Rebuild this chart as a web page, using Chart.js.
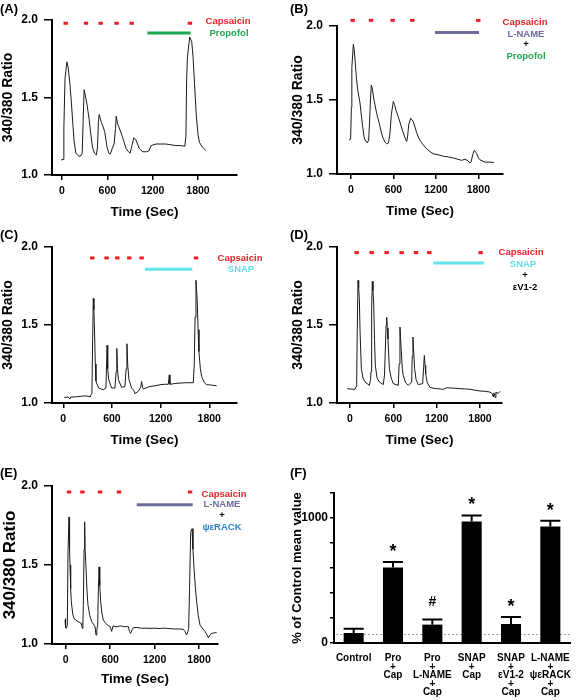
<!DOCTYPE html>
<html>
<head>
<meta charset="utf-8">
<script src="https://cdn.jsdelivr.net/npm/chart.js@4.4.0/dist/chart.umd.min.js"></script>
<style>
  html, body { margin: 0; padding: 0; background: #fff; }
  #fig { position: relative; width: 576px; height: 700px; overflow: hidden;
         font-family: "Liberation Sans", Arial, Helvetica, sans-serif; }
  .box { position: absolute; }
  .tag { position: absolute; font-weight: bold; font-size: 13px; line-height: 1; }
  .lbl { position: absolute; font-weight: bold; font-size: 9.5px; line-height: 1;
         white-space: nowrap; transform: translate(-50%, -50%); }
  .red { color: #ee1d25; }
  .green { color: #1fa84f; }
  .slate { color: #6c6c9c; }
  .cyan { color: #5fdde8; }
  .blue { color: #2d86c5; }
</style>
</head>
<body>
<div id="fig">
  <div class="box" style="left:0;top:0;width:290px;height:225px"><canvas id="chartA"></canvas></div>
  <div class="box" style="left:290px;top:0;width:286px;height:225px"><canvas id="chartB"></canvas></div>
  <div class="box" style="left:0;top:225px;width:290px;height:230px"><canvas id="chartC"></canvas></div>
  <div class="box" style="left:290px;top:225px;width:286px;height:230px"><canvas id="chartD"></canvas></div>
  <div class="box" style="left:0;top:455px;width:290px;height:245px"><canvas id="chartE"></canvas></div>
  <div class="box" style="left:290px;top:455px;width:286px;height:245px"><canvas id="chartF"></canvas></div>

  <!-- panel tags -->
  <div class="tag" style="left:0;top:2px">(A)</div>
  <div class="tag" style="left:290px;top:2px">(B)</div>
  <div class="tag" style="left:0;top:228px">(C)</div>
  <div class="tag" style="left:290px;top:228px">(D)</div>
  <div class="tag" style="left:0;top:466px">(E)</div>
  <div class="tag" style="left:290px;top:466px">(F)</div>

  <!-- treatment keys -->
  <div class="lbl red" style="left:228px;top:21px">Capsaicin</div>
  <div class="lbl green" style="left:229px;top:33px">Propofol</div>

  <div class="lbl red" style="left:525px;top:22px">Capsaicin</div>
  <div class="lbl slate" style="left:526px;top:34px">L-NAME</div>
  <div class="lbl" style="left:526px;top:44px">+</div>
  <div class="lbl green" style="left:526px;top:56px">Propofol</div>

  <div class="lbl red" style="left:240px;top:258px">Capsaicin</div>
  <div class="lbl cyan" style="left:241px;top:269px">SNAP</div>

  <div class="lbl red" style="left:521px;top:252px">Capsaicin</div>
  <div class="lbl cyan" style="left:523px;top:264px">SNAP</div>
  <div class="lbl" style="left:525px;top:275px">+</div>
  <div class="lbl" style="left:525px;top:287px">εV1-2</div>

  <div class="lbl red" style="left:224px;top:494px">Capsaicin</div>
  <div class="lbl slate" style="left:222px;top:504px">L-NAME</div>
  <div class="lbl" style="left:222px;top:515px">+</div>
  <div class="lbl blue" style="left:222px;top:527px">ψεRACK</div>
</div>

<script>
// ---- Datos ----
// ejes comunes de las trazas
const timeTicks = [0, 600, 1200, 1800];
const ratioTicks = [1.0, 1.5, 2.0];

// trazas [tiempo (s), ratio 340/380]
const traceA = [[-13,1.097],[15,1.10],[25,1.30],[40,1.62],[65,1.73],[80,1.70],[105,1.59],[127,1.45],[145,1.32],[160,1.22],
  [184,1.14],[215,1.125],[240,1.12],[268,1.14],[280,1.35],[293,1.55],[310,1.51],[333,1.45],[359,1.36],[380,1.27],
  [403,1.18],[430,1.14],[455,1.13],[470,1.18],[482,1.34],[492,1.39],[521,1.34],[545,1.31],[565,1.28],[596,1.18],
  [620,1.14],[640,1.135],[665,1.17],[690,1.20],[708,1.30],[718,1.38],[735,1.33],[753,1.31],[797,1.25],[830,1.20],
  [850,1.17],[880,1.15],[902,1.14],[925,1.19],[950,1.24],[975,1.23],[1000,1.20],[1025,1.17],[1069,1.15],[1120,1.15],
  [1150,1.155],[1180,1.19],[1244,1.20],[1310,1.20],[1375,1.20],[1440,1.195],[1507,1.19],[1570,1.19],[1625,1.185],[1640,1.25],
  [1650,1.62],[1660,1.76],[1690,1.89],[1717,1.86],[1735,1.76],[1755,1.58],[1778,1.38],[1800,1.26],[1820,1.21],[1857,1.18],[1901,1.16]];

const traceB = [[-28,1.23],[-5,1.235],[5,1.45],[12,1.72],[33,1.877],[45,1.84],[57,1.77],[75,1.66],[94,1.57],[127,1.48],
  [150,1.38],[165,1.32],[185,1.25],[198,1.23],[230,1.21],[250,1.23],[262,1.35],[275,1.50],[287,1.60],[300,1.58],
  [325,1.50],[363,1.41],[400,1.34],[425,1.29],[447,1.25],[480,1.215],[504,1.204],[530,1.21],[550,1.27],[570,1.40],
  [598,1.49],[615,1.47],[636,1.43],[683,1.365],[730,1.29],[760,1.25],[787,1.22],[800,1.25],[815,1.33],[843,1.377],
  [881,1.354],[928,1.28],[960,1.24],[999,1.21],[1069,1.17],[1120,1.15],[1163,1.137],[1230,1.13],[1305,1.12],[1380,1.115],
  [1446,1.108],[1510,1.10],[1564,1.092],[1611,1.10],[1650,1.09],[1681,1.074],[1700,1.085],[1720,1.13],[1743,1.16],[1760,1.15],
  [1776,1.14],[1800,1.11],[1823,1.096],[1893,1.08],[1960,1.08],[2021,1.078]];

const traceC = [[12,1.036],[60,1.038],[82,1.025],[90,1.038],[164,1.04],[250,1.045],[288,1.045],[330,1.04],[337,1.05],[353,1.06],
  [362,1.40],[370,1.67],[378,1.60],[386,1.45],[395,1.25],[403,1.14],[436,1.096],[493,1.085],[526,1.096],[534,1.25],
  [540,1.37],[548,1.22],[560,1.15],[596,1.096],[637,1.096],[652,1.20],[660,1.35],[668,1.22],[680,1.15],[719,1.10],
  [760,1.106],[775,1.22],[785,1.38],[795,1.24],[810,1.15],[843,1.096],[870,1.08],[884,1.06],[925,1.075],[955,1.10],
  [966,1.138],[978,1.10],[986,1.09],[1069,1.106],[1130,1.11],[1192,1.117],[1250,1.12],[1295,1.12],[1307,1.18],[1315,1.12],
  [1380,1.125],[1439,1.128],[1520,1.13],[1603,1.13],[1615,1.25],[1625,1.55],[1636,1.787],[1644,1.72],[1652,1.65],[1662,1.47],
  [1673,1.33],[1690,1.22],[1706,1.17],[1740,1.13],[1767,1.117],[1830,1.115],[1891,1.11]];

const traceD = [[-37,1.092],[0,1.09],[40,1.088],[69,1.088],[92,1.11],[100,1.45],[111,1.786],[120,1.74],[129,1.67],[140,1.45],
  [157,1.22],[180,1.16],[208,1.135],[268,1.113],[285,1.15],[291,1.20],[300,1.60],[309,1.78],[318,1.72],[328,1.647],
  [340,1.40],[351,1.24],[375,1.16],[406,1.135],[461,1.118],[478,1.18],[485,1.284],[500,1.50],[508,1.55],[516,1.48],
  [526,1.41],[545,1.22],[570,1.16],[600,1.124],[669,1.113],[680,1.25],[692,1.487],[700,1.42],[711,1.327],[725,1.22],
  [738,1.177],[770,1.13],[808,1.113],[854,1.135],[862,1.30],[872,1.423],[880,1.35],[895,1.22],[915,1.15],[946,1.118],
  [1006,1.124],[1020,1.23],[1029,1.305],[1040,1.24],[1048,1.188],[1070,1.13],[1108,1.10],[1150,1.095],[1200,1.092],[1250,1.09],
  [1292,1.088],[1340,1.098],[1385,1.096],[1450,1.095],[1523,1.092],[1600,1.09],[1661,1.088],[1730,1.082],[1800,1.077],[1870,1.075],
  [1938,1.07],[1970,1.06],[1984,1.04],[1995,1.065],[2010,1.035],[2021,1.07],[2050,1.06],[2077,1.075]];

const traceE = [[-9,1.152],[-3,1.16],[0,1.103],[10,1.10],[22,1.12],[31,1.583],[45,1.804],[52,1.60],[58,1.50],[67,1.35],
  [76,1.267],[95,1.19],[112,1.162],[140,1.15],[171,1.141],[195,1.135],[207,1.13],[215,1.12],[225,1.099],[232,1.12],
  [238,1.246],[248,1.60],[256,1.773],[262,1.60],[274,1.48],[288,1.33],[301,1.246],[325,1.18],[351,1.141],[375,1.125],
  [396,1.11],[409,1.057],[420,1.09],[432,1.12],[441,1.35],[450,1.488],[460,1.37],[472,1.267],[490,1.19],[508,1.152],
  [540,1.13],[576,1.116],[600,1.11],[620,1.08],[640,1.115],[666,1.11],[700,1.11],[740,1.115],[780,1.11],[820,1.11],
  [846,1.11],[860,1.08],[877,1.067],[895,1.09],[913,1.103],[960,1.105],[1020,1.10],[1080,1.10],[1138,1.099],[1200,1.10],
  [1260,1.098],[1320,1.10],[1363,1.099],[1420,1.097],[1480,1.095],[1540,1.095],[1588,1.093],[1610,1.08],[1633,1.057],[1650,1.08],
  [1660,1.099],[1672,1.35],[1687,1.707],[1705,1.73],[1718,1.60],[1732,1.48],[1750,1.36],[1768,1.267],[1790,1.18],[1813,1.12],
  [1845,1.10],[1881,1.078],[1905,1.06],[1926,1.04],[1950,1.06],[1971,1.067],[2000,1.07],[2038,1.072]];

// aplicaciones de capsaicina (s) y ventana del fármaco [inicio, fin]
const capA = [49, 318, 512, 723, 922, 1693];
const drugA = [1129, 1702];
const capB = [24, 283, 589, 867, 1799];
const drugB = [1187, 1809];
const capC = [358, 534, 666, 814, 966, 1636];
const drugC = [1007, 1591];
const capD = [92, 300, 508, 715, 914, 1098, 1809];
const drugD = [1154, 1855];
const capE = [45, 225, 464, 720, 1679];
const drugE = [959, 1715];

// panel F: % del valor medio control
const groupLabels = [['Control'], ['Pro', '+', 'Cap'], ['Pro', '+', 'L-NAME', '+', 'Cap'],
  ['SNAP', '+', 'Cap'], ['SNAP', '+', 'εV1-2', '+', 'Cap'], ['L-NAME', '+', 'ψεRACK', '+', 'Cap']];
const groupMean = [80, 605, 147, 973, 152, 933];
const groupSem = [35, 43, 42, 48, 56, 46];
const groupMark = ['', '*', '#', '*', '*', '*'];
const controlRef = 75;
const pctTickLabels = [0, 500, 1000];

// ---- Estilo ----
const FONT = '"Liberation Sans", Arial, Helvetica, sans-serif';
const RED = '#ee1d25';
Chart.defaults.font.family = FONT;
Chart.defaults.color = '#000';

function makeTrace(id, p) {
    const [bx, by, bw, bh] = p.box;
    const [al, at, ar, ab] = p.area;

    const datasets = [
        {
            data: p.trace.map(d => ({ x: d[0], y: d[1] })),
            borderColor: '#1a1a1a',
            borderWidth: 1,
            pointRadius: 0,
            tension: 0
        },
        {
            // marcas rojas de capsaicina
            data: p.cap.map(t => ({ x: t, y: p.capY })),
            showLine: false,
            pointStyle: 'line',
            pointRadius: 2.2,
            pointHoverRadius: 10,
            pointBorderWidth: 3,
            pointBorderColor: RED,
            clip: false
        },
        {
            // barra del fármaco
            data: p.drug.map(t => ({ x: t, y: p.drugY })),
            borderColor: p.drugColor,
            borderWidth: 3,
            pointRadius: 0,
            clip: false
        }
    ];

    return new Chart(document.getElementById(id), {
        type: 'line',
        data: { datasets: datasets },
        options: {
            responsive: true,
            maintainAspectRatio: false,
            animation: false,
            layout: { padding: { left: 0, top: at - by, right: bx + bw - ar, bottom: 0 } },
            plugins: { legend: { display: false }, tooltip: { enabled: false } },
            scales: {
                x: {
                    type: 'linear',
                    min: p.xMin,
                    max: p.xMax,
                    afterBuildTicks: s => { s.ticks = timeTicks.map(v => ({ value: v })); },
                    afterFit: s => { s.height = by + bh - ab; },
                    border: { display: true, color: '#000', width: 2 },
                    grid: { display: true, drawOnChartArea: false, drawTicks: true, tickLength: 5, color: '#000', lineWidth: 1.5 },
                    ticks: {
                        color: '#000', font: { size: 10.5, weight: 'bold' }, padding: 5,
                        maxRotation: 0, autoSkip: false, callback: v => String(v)
                    },
                    title: {
                        display: true, text: 'Time (Sec)', color: '#000',
                        font: { size: 13.5, weight: 'bold' },
                        padding: { top: 0, bottom: p.xTitlePad }
                    }
                },
                y: {
                    min: 1,
                    max: 2,
                    afterBuildTicks: s => { s.ticks = ratioTicks.map(v => ({ value: v })); },
                    afterFit: s => { s.width = al - bx; },
                    border: { display: true, color: '#000', width: 2 },
                    grid: { display: true, drawOnChartArea: false, drawTicks: true, tickLength: 8, color: '#000', lineWidth: 1.5 },
                    ticks: { color: '#000', font: { size: 12, weight: 'bold' }, padding: 6, callback: v => v.toFixed(1) },
                    title: {
                        display: true, text: '340/380 Ratio', color: '#000',
                        font: { size: p.yTitleSize, weight: 'bold' },
                        padding: { top: 0, bottom: 0 }
                    }
                }
            }
        }
    });
}

makeTrace('chartA', { box: [0, 0, 290, 225], area: [52, 20, 237, 175], xMin: -132, xMax: 2316,
    trace: traceA, cap: capA, capY: 1.979, drug: drugA, drugY: 1.916, drugColor: '#1fa84f', xTitlePad: 5, yTitleSize: 14 });
makeTrace('chartB', { box: [290, 0, 286, 225], area: [337, 26, 503, 174], xMin: -198, xMax: 2149,
    trace: traceB, cap: capB, capY: 2.038, drug: drugB, drugY: 1.956, drugColor: '#6c6c9c', xTitlePad: 6, yTitleSize: 14 });
makeTrace('chartC', { box: [0, 225, 290, 230], area: [52, 247, 237, 403], xMin: -139, xMax: 2142,
    trace: traceC, cap: capC, capY: 1.93, drug: drugC, drugY: 1.858, drugColor: '#63e3ea', xTitlePad: 7, yTitleSize: 14 });
makeTrace('chartD', { box: [290, 225, 286, 230], area: [337, 247, 502, 403], xMin: -180, xMax: 2105,
    trace: traceD, cap: capD, capY: 1.964, drug: drugD, drugY: 1.897, drugColor: '#63e3ea', xTitlePad: 7, yTitleSize: 14 });
makeTrace('chartE', { box: [0, 455, 290, 245], area: [52, 486, 218, 644], xMin: -185, xMax: 2056,
    trace: traceE, cap: capE, capY: 1.962, drug: drugE, drugY: 1.882, drugColor: '#6c6c9c', xTitlePad: 13, yTitleSize: 17 });

// Panel F: barras de error, línea de control y marcas de significancia
const barExtras = {
    id: 'barExtras',
    beforeDatasetsDraw(chart) {
        const { ctx, chartArea, scales: { y } } = chart;
        const py = Math.round(y.getPixelForValue(controlRef)) + 0.5;
        ctx.save();
        ctx.strokeStyle = '#9a9a9a';
        ctx.lineWidth = 1;
        ctx.setLineDash([2, 2]);
        ctx.beginPath();
        ctx.moveTo(chartArea.left + 2, py);
        ctx.lineTo(chartArea.right, py);
        ctx.stroke();
        ctx.restore();
    },
    afterDatasetsDraw(chart) {
        const { ctx, scales: { y } } = chart;
        const meta = chart.getDatasetMeta(0);
        ctx.save();
        ctx.strokeStyle = '#000';
        ctx.fillStyle = '#000';
        ctx.lineWidth = 2;
        ctx.textAlign = 'center';
        ctx.textBaseline = 'alphabetic';
        meta.data.forEach((bar, i) => {
            const top = y.getPixelForValue(groupMean[i] + groupSem[i]);
            const half = bar.width / 2;
            ctx.beginPath();
            ctx.moveTo(bar.x, bar.y);
            ctx.lineTo(bar.x, top);
            ctx.moveTo(bar.x - half, top);
            ctx.lineTo(bar.x + half, top);
            ctx.stroke();
            const mark = groupMark[i];
            if (mark) {
                const big = mark === '*';
                ctx.font = 'bold ' + (big ? 18 : 14) + 'px ' + FONT;
                ctx.fillText(mark, bar.x, top - (big ? 5 : 13));
            }
        });
        ctx.restore();
    }
};

new Chart(document.getElementById('chartF'), {
    type: 'bar',
    data: {
        labels: groupLabels,
        datasets: [{
            data: groupMean,
            backgroundColor: '#000',
            borderWidth: 0,
            barPercentage: 0.51,
            categoryPercentage: 1
        }]
    },
    options: {
        responsive: true,
        maintainAspectRatio: false,
        animation: false,
        layout: { padding: { left: 0, top: 493 - 455, right: 576 - 570, bottom: 0 } },
        plugins: { legend: { display: false }, tooltip: { enabled: false } },
        scales: {
            x: {
                afterFit: s => { s.height = 700 - 643; },
                border: { display: true, color: '#000', width: 2 },
                grid: { display: false },
                ticks: { color: '#000', font: { size: 10, weight: 'bold', lineHeight: 0.86 }, padding: 3, maxRotation: 0, autoSkip: false }
            },
            y: {
                min: 0,
                max: 1200,
                afterFit: s => { s.width = 334 - 290; },
                border: { display: true, color: '#000', width: 2 },
                grid: { display: true, drawOnChartArea: false, drawTicks: true, tickLength: 4, color: '#000', lineWidth: 1.5 },
                ticks: {
                    stepSize: 100, padding: 2, color: '#000',
                    font: { size: 12, weight: 'bold' },
                    callback: v => pctTickLabels.includes(v) ? String(v) : ''
                },
                title: {
                    display: true, text: '% of Control mean value', color: '#000',
                    font: { size: 13, weight: 'bold' },
                    padding: { top: 0, bottom: 0 }
                }
            }
        }
    },
    plugins: [barExtras]
});
</script>
</body>
</html>
